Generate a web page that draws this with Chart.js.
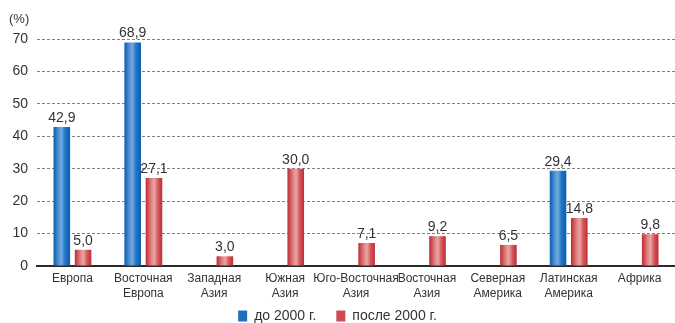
<!DOCTYPE html>
<html>
<head>
<meta charset="utf-8">
<script src="https://cdn.jsdelivr.net/npm/chart.js@4/dist/chart.umd.min.js"></script>
<style>
	html, body { margin: 0; padding: 0; background: #fff; }
	#wrap { width: 675px; height: 323px; }
</style>
</head>
<body>
<div id="wrap"><canvas id="chart"></canvas></div>
<script>
'use strict';

const regions = [
	['Европа'],
	['Восточная', 'Европа'],
	['Западная', 'Азия'],
	['Южная', 'Азия'],
	['Юго-Восточная', 'Азия'],
	['Восточная', 'Азия'],
	['Северная', 'Америка'],
	['Латинская', 'Америка'],
	['Африка']
];
const before2000 = [42.9, 68.9, null, null, null, null, null, 29.4, null];
const after2000 = [5.0, 27.1, 3.0, 30.0, 7.1, 9.2, 6.5, 14.8, 9.8];
const yTicks = [0, 10, 20, 30, 40, 50, 60, 70];

const FONT = '"Liberation Sans", Arial, sans-serif';
const TEXT = '#333333';

//цилиндрическая заливка столбиков
const blueStops = [[0, '#0a5cad'], [0.3, '#4f92d4'], [0.48, '#74a9de'], [0.7, '#2275c6'], [1, '#0a5eb1']];
const redStops = [[0, '#bd2a33'], [0.35, '#e08585'], [0.52, '#eaa5a3'], [0.75, '#d2555a'], [1, '#bf2c36']];

function makeGradient(ctx, x0, x1, stops){
	let g = ctx.createLinearGradient(x0, 0, x1, 0);
	stops.forEach(s => g.addColorStop(s[0], s[1]));
	return g;
}

const barGradient = {
	id: 'barGradient',
	beforeDatasetsDraw(chart){
		let ctx = chart.ctx;
		chart.data.datasets.forEach((ds, i) => {
			let meta = chart.getDatasetMeta(i);
			meta.data.forEach(el => {
				let half = el.width / 2;
				el.options = Object.assign({}, el.options, {
					backgroundColor: makeGradient(ctx, el.x - half, el.x + half, ds.stops)
				});
			});
		});
	}
};

const textLayer = {
	id: 'textLayer',
	afterDraw(chart){
		let ctx = chart.ctx;
		let area = chart.chartArea;
		ctx.save();
		ctx.font = '14px ' + FONT;
		ctx.fillStyle = TEXT;
		ctx.textAlign = 'center';
		ctx.textBaseline = 'bottom';
		// подписи значений над столбиками
		chart.data.datasets.forEach((ds, i) => {
			let meta = chart.getDatasetMeta(i);
			meta.data.forEach((el, n) => {
				let v = ds.data[n];
				if(v === null) return;
				ctx.fillText(v.toFixed(1).replace('.', ','), el.x, el.y - 2);
			});
		});
		// подписи регионов под осью (без обрезки областью шкалы)
		ctx.font = '12px ' + FONT;
		ctx.textBaseline = 'middle';
		let xs = chart.scales.x;
		chart.data.labels.forEach((lines, n) => {
			let cx = xs.getPixelForTick(n);
			lines.forEach((t, k) => ctx.fillText(t, cx, area.bottom + 13 + k * 15));
		});
		// единица измерения над осью
		ctx.textAlign = 'left';
		ctx.font = '13px ' + FONT;
		ctx.fillText('(%)', 9, area.top - 20);
		ctx.restore();
	}
};

new Chart(document.getElementById('chart'), {
	type: 'bar',
	data: {
		labels: regions,
		datasets: [{
			label: 'до 2000 г.',
			data: before2000,
			backgroundColor: '#1f6fc0',
			stops: blueStops,
			categoryPercentage: 0.6,
			barPercentage: 0.78
		}, {
			label: 'после 2000 г.',
			data: after2000,
			backgroundColor: '#d04a50',
			stops: redStops,
			categoryPercentage: 0.6,
			barPercentage: 0.78
		}]
	},
	options: {
		responsive: true,
		maintainAspectRatio: false,
		animation: false,
		layout: { padding: { top: 39, right: 0, left: 0, bottom: -10 } },
		plugins: {
			tooltip: { enabled: false },
			legend: {
				position: 'bottom',
				labels: {
					font: { family: FONT, size: 14 },
					color: TEXT,
					boxWidth: 9,
					boxHeight: 11,
					padding: 20
				}
			}
		},
		scales: {
			x: {
				grid: { display: false },
				border: { color: '#2b2b2b', width: 2 },
				afterFit(scale){
					scale.height = 23;
				},
				ticks: { display: false }
			},
			y: {
				min: 0,
				max: 70,
				afterBuildTicks(scale){
					scale.ticks = yTicks.map(v => ({ value: v }));
				},
				afterFit(scale){
					scale.width = 37;
				},
				border: { display: false, dash: [3, 2] },
				grid: {
					color: ctx => ctx.tick.value === 0 ? 'rgba(0,0,0,0)' : '#808080',
					lineWidth: 1,
					borderDash: [3, 2],
					drawTicks: false
				},
				ticks: { font: { family: FONT, size: 14 }, color: TEXT, padding: 9 }
			}
		}
	},
	plugins: [barGradient, textLayer]
});
</script>
</body>
</html>
